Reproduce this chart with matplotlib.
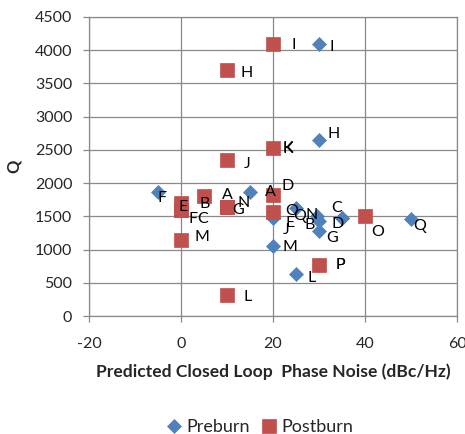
import matplotlib
matplotlib.use("Agg")
import matplotlib.pyplot as plt

plt.rcParams['font.family'] = ['Lato', 'DejaVu Sans']
plt.rcParams['axes.unicode_minus'] = False

# ---- data ----
pre_labels = ['A', 'B', 'C', 'D', 'E', 'F', 'G', 'H', 'I', 'J', 'K', 'L', 'M', 'N', 'O', 'P', 'Q']
pre_x = [15, 30, 35, 35, 20, -5, 30, 30, 30, 20, 20, 25, 20, 29.5, 25, 30, 50]
pre_y = [1860, 1430, 1470, 1470, 1560, 1860, 1280, 2650, 4100, 1480, 2530, 630, 1050, 1500, 1620, 770, 1460]

post_labels = ['A', 'B', 'C', 'D', 'E', 'F', 'G', 'H', 'I', 'J', 'K', 'L', 'M', 'N', 'O', 'P', 'Q']
post_x = [10, 5, 0, 20, 0, 0, 10, 10, 20, 10, 20, 10, 0, 10, 40, 30, 20]
post_y = [1640, 1810, 1590, 1820, 1700, 1590, 1640, 3700, 4100, 2350, 2530, 320, 1140, 1640, 1510, 770, 1560]

x_ticks = [-20, 0, 20, 40, 60]
y_ticks = [0, 500, 1000, 1500, 2000, 2500, 3000, 3500, 4000, 4500]
x_title = 'Predicted Closed Loop  Phase Noise (dBc/Hz)'
y_title = 'Q'
series_names = ['Preburn', 'Postburn']

# label offsets (pixels, right / up) - layout only
pre_off = {'A': (20, 0), 'B': (-9, -4), 'C': (-5, 10), 'D': (-4, -6), 'E': (17, -11),
           'F': (4, -6), 'G': (13, -7), 'H': (15, 6), 'I': (13, -3), 'J': (13, -12),
           'K': (15, 0), 'L': (16, -4), 'M': (17, -1), 'N': (-5, 1), 'O': (-4, -3),
           'P': (21, 0), 'Q': (9, -7)}
post_off = {'A': (0, 12), 'B': (1, -8), 'C': (22, -9), 'D': (15, 9), 'E': (2, -4),
            'F': (12, -9), 'G': (11, -3), 'H': (20, -3), 'I': (21, -1), 'J': (20, -4),
            'K': (15, -1), 'L': (21, -2), 'M': (21, 3), 'N': (17, 4), 'O': (13, -16),
            'P': (21, 0), 'Q': (27, -4)}

BLUE = '#4F81BD'
RED = '#C0504D'
GRID = '#898989'
TXT = '#262626'

fig = plt.figure(figsize=(4.65, 4.34), dpi=100)
ax = fig.add_axes([89/465, 1-316/434, (457-89)/465, (316-17)/434])

ax.plot(pre_x, pre_y, linestyle='none', marker='D', ms=7.5, color=BLUE,
        mec=BLUE, mew=0.5, label=series_names[0], zorder=3)
ax.plot(post_x, post_y, linestyle='none', marker='s', ms=10.5, color=RED,
        mec=RED, mew=0.5, label=series_names[1], zorder=4)

for lab, x, y in zip(pre_labels, pre_x, pre_y):
    ax.annotate(lab, (x, y), xytext=pre_off[lab], textcoords='offset pixels',
                ha='center', va='center', fontsize=11.5, color='black', zorder=6)
for lab, x, y in zip(post_labels, post_x, post_y):
    ax.annotate(lab, (x, y), xytext=post_off[lab], textcoords='offset pixels',
                ha='center', va='center', fontsize=11.5, color='black', zorder=6)

ax.set_xlim(-20, 60)
ax.set_ylim(0, 4500)
ax.set_xticks(x_ticks)
ax.set_yticks(y_ticks)
ax.grid(True, color=GRID, linewidth=0.9)
ax.set_axisbelow(True)
for s in ax.spines.values():
    s.set_color(GRID)
    s.set_linewidth(0.9)
ax.tick_params(axis='both', direction='out', length=4, width=0.9, color=GRID,
               labelsize=11.5, labelcolor=TXT)
ax.tick_params(axis='x', pad=11)
ax.tick_params(axis='y', pad=8)

ax.set_xlabel(x_title, fontsize=12.6, fontweight='bold', color=TXT, labelpad=9)
ax.set_ylabel(y_title, fontsize=12, fontweight='bold', color=TXT, labelpad=9)

fig.legend(loc='center', bbox_to_anchor=(258/465, 1-427/434), ncol=2, frameon=False,
           fontsize=13, handletextpad=0.1, columnspacing=0.45, handlelength=1.2,
           labelcolor=TXT)

fig.savefig('out.png', dpi=100)
